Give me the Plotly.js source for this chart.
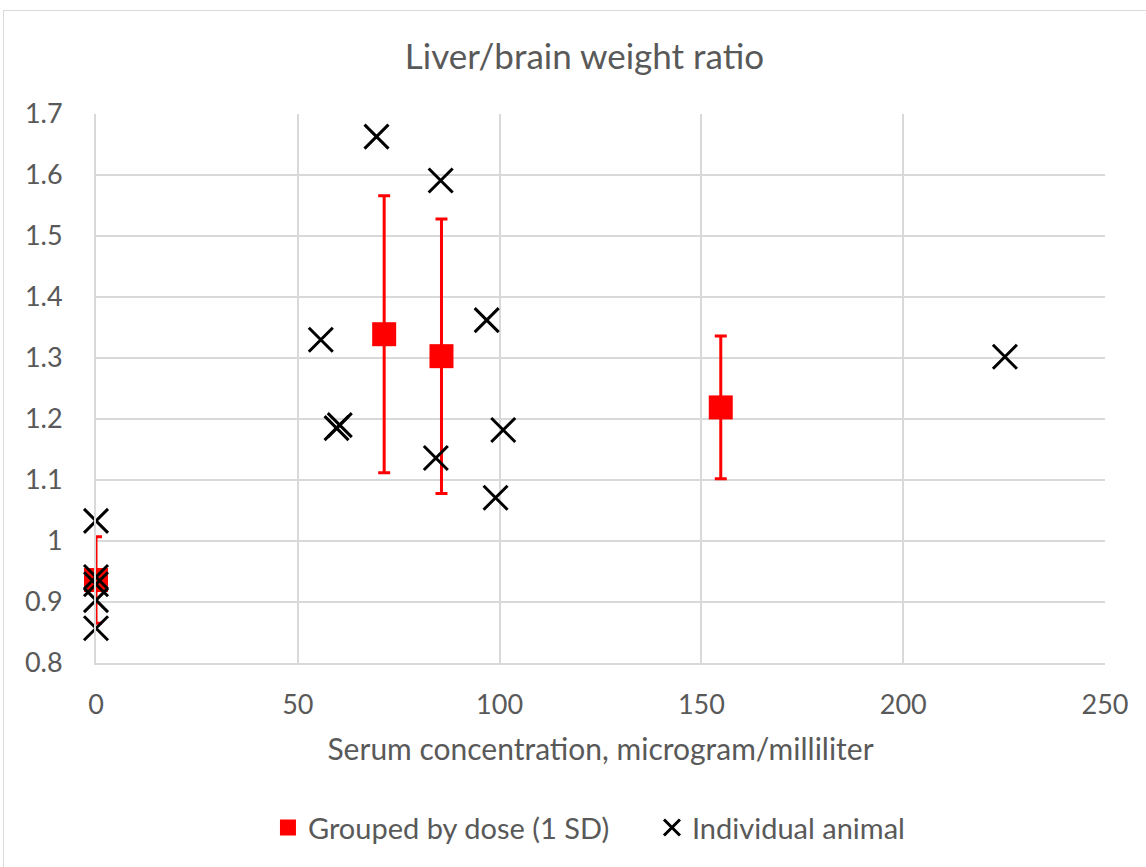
<!DOCTYPE html>
<html>
<head>
<meta charset="utf-8">
<script src="https://cdn.plot.ly/plotly-3.0.1.min.js"></script>
<style>
  html, body { margin: 0; padding: 0; background: #ffffff; }
  #chart { width: 1146px; height: 867px; }
  #frame { position: absolute; left: 3px; top: 10px; width: 1150px; height: 870px;
           border: 1px solid #d9d9d9; pointer-events: none; }
</style>
</head>
<body>
<div id="chart"></div>
<div id="frame"></div>
<script>
// Grouped by dose (mean, 1 SD)
const groupX  = [0, 71.4, 85.6, 154.8];
const groupY  = [0.936, 1.339, 1.303, 1.219];
const groupSD = [0.071, 0.227, 0.225, 0.117];

// Individual animals
const indX = [0, 0, 0, 0, 0, 55.7, 59.6, 60.4, 69.5, 84.2, 85.4, 96.8, 99.0, 100.9, 225.2];
const indY = [1.033, 0.941, 0.929, 0.903, 0.857, 1.330, 1.185, 1.190, 1.663, 1.136, 1.591, 1.362, 1.071, 1.182, 1.302];

const xTicks = [0, 50, 100, 150, 200, 250];
const yTicks = [0.8, 0.9, 1, 1.1, 1.2, 1.3, 1.4, 1.5, 1.6, 1.7];
const yTickText = ['0.8', '0.9', '1', '1.1', '1.2', '1.3', '1.4', '1.5', '1.6', '1.7'];

const FONT = 'Lato, "Open Sans", sans-serif';
const GREY = '#595959';

const traces = [
  {
    name: 'Grouped by dose (1 SD)',
    x: groupX, y: groupY,
    type: 'scatter', mode: 'markers',
    cliponaxis: false,
    marker: { symbol: 'square', size: 24, color: '#ff0000' },
    error_y: { type: 'data', array: groupSD, visible: true, color: '#ff0000', thickness: 3, width: 6 }
  },
  {
    name: 'Individual animal',
    x: indX, y: indY,
    type: 'scatter', mode: 'markers',
    cliponaxis: false,
    marker: { symbol: 'x-thin-open', size: 24, color: '#000000', line: { color: '#000000', width: 3 } }
  }
];

const layout = {
  width: 1146, height: 867,
  margin: { l: 96, r: 41, t: 114, b: 204 },
  paper_bgcolor: '#ffffff', plot_bgcolor: '#ffffff',
  font: { family: FONT, color: GREY, size: 28 },
  title: { text: 'Liver/brain weight ratio', font: { family: FONT, size: 35, color: GREY },
           x: 0.51, xanchor: 'center', y: 0.935, yanchor: 'middle' },
  xaxis: {
    range: [0, 250], tickvals: xTicks, ticktext: xTicks.map(String),
    showgrid: true, gridcolor: '#d9d9d9', gridwidth: 2,
    zeroline: false, showline: true, linecolor: '#d9d9d9', linewidth: 2,
    ticks: '', ticklabelstandoff: 17,
    tickfont: { family: FONT, size: 27, color: GREY },
    title: { text: 'Serum concentration, microgram/milliliter', font: { family: FONT, size: 30, color: GREY }, standoff: 20 }
  },
  yaxis: {
    range: [0.8, 1.7], tickvals: yTicks, ticktext: yTickText,
    showgrid: true, gridcolor: '#d9d9d9', gridwidth: 2,
    zeroline: false, showline: true, linecolor: '#d9d9d9', linewidth: 2,
    ticks: '', ticklabelstandoff: 26,
    tickfont: { family: FONT, size: 27, color: GREY }
  },
  showlegend: true,
  legend: {
    orientation: 'h', x: 0.551, xanchor: 'center', y: -0.3, yanchor: 'middle',
    font: { family: FONT, size: 29, color: GREY }, itemwidth: 30, entrywidth: 339,
    bgcolor: 'rgba(0,0,0,0)'
  }
};

Plotly.newPlot('chart', traces, layout, { displayModeBar: false, staticPlot: true });
</script>
</body>
</html>
